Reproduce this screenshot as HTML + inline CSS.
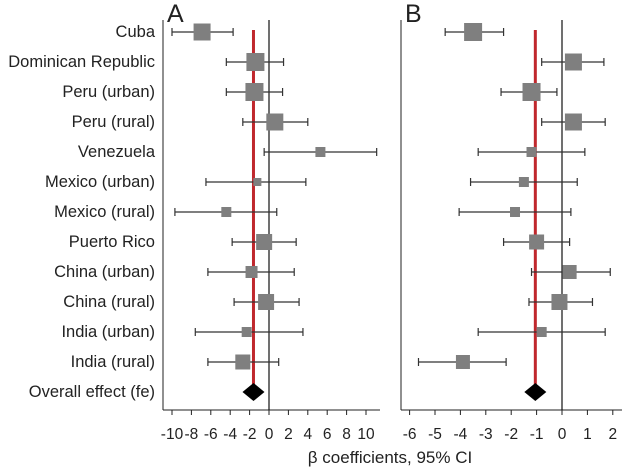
<!DOCTYPE html>
<html><head><meta charset="utf-8"><style>
body{margin:0;background:#fff;}
svg{display:block;font-family:"Liberation Sans",sans-serif;}
</style></head><body>
<svg id="chart" width="627" height="469" viewBox="0 0 627 469"></svg>
<script>
const categories=["Cuba","Dominican Republic","Peru (urban)","Peru (rural)","Venezuela","Mexico (urban)","Mexico (rural)","Puerto Rico","China (urban)","China (rural)","India (urban)","India (rural)"];
const aEst=[-6.9,-1.4,-1.5,0.6,5.3,-1.2,-4.4,-0.5,-1.8,-0.3,-2.3,-2.7];
const aLo=[-10,-4.4,-4.4,-2.7,-0.5,-6.5,-9.7,-3.8,-6.3,-3.6,-7.6,-6.3];
const aHi=[-3.7,1.5,1.4,4.0,11.1,3.8,0.8,2.8,2.6,3.1,3.5,1.0];
const aWt=[17,18,18,17,10,8,10,16,12,16,10,15];
const aOverall=-1.6;
const bEst=[-3.5,0.45,-1.2,0.45,-1.2,-1.5,-1.85,-1.0,0.3,-0.1,-0.8,-3.9];
const bLo=[-4.6,-0.8,-2.4,-0.8,-3.3,-3.6,-4.05,-2.3,-1.2,-1.3,-3.3,-5.65];
const bHi=[-2.3,1.65,-0.2,1.7,0.9,0.6,0.35,0.3,1.9,1.2,1.7,-2.2];
const bWt=[18,17,18,17,10,10,10,15,14,16,10,14];
const bOverall=-1.05;
const aTicks=[-10,-8,-6,-4,-2,0,2,4,6,8,10];
const bTicks=[-6,-5,-4,-3,-2,-1,0,1,2];

const svg=document.getElementById('chart');
const NS='http://www.w3.org/2000/svg';
function el(t,a,p){const e=document.createElementNS(NS,t);for(const k in a)e.setAttribute(k,a[k]);(p||svg).appendChild(e);return e;}
const rowY=i=>32+i*30;
const xA=v=>269+9.7*v;
const xB=v=>562+25.4*v;

categories.forEach((c,i)=>{
  const t=el('text',{x:155,y:rowY(i)+5,'text-anchor':'end','font-size':16.5,fill:'#222'});
  t.textContent=c;
  
  
});
const ot=el('text',{x:155,y:rowY(12)+5,'text-anchor':'end','font-size':16.5,fill:'#222'});
ot.textContent="Overall effect (fe)";



function panel(name,letter,left,right,X,est,lo,hi,wt,overall,ticks){
  const g=el('g',{});
  
  
  el('line',{x1:left,y1:20,x2:left,y2:410,stroke:'#222','stroke-width':1},g);
  el('line',{x1:left,y1:410,x2:right,y2:410,stroke:'#222','stroke-width':1},g);
  el('line',{x1:X(0),y1:20,x2:X(0),y2:410,stroke:'#111','stroke-width':1.2},g);
  const L=el('text',{x:left+4,y:22,'font-size':25,fill:'#222'},g);L.textContent=letter;
  ticks.forEach(t=>{
    el('line',{x1:X(t),y1:410,x2:X(t),y2:415,stroke:'#222'},g);
    const tx=el('text',{x:X(t),y:439,'text-anchor':'middle','font-size':15.5,fill:'#222'},g);
    tx.textContent=t;
    
    
  });
  el('line',{x1:X(overall),y1:30,x2:X(overall),y2:392,stroke:'#c0282d','stroke-width':3},g);
  est.forEach((v,i)=>{
    const y=rowY(i);
    const ci=el('line',{x1:X(lo[i]),y1:y,x2:X(hi[i]),y2:y,stroke:'#333','stroke-width':1.2},g);
    
    
    el('line',{x1:X(lo[i]),y1:y-4,x2:X(lo[i]),y2:y+4,stroke:'#333','stroke-width':1.2},g);
    el('line',{x1:X(hi[i]),y1:y-4,x2:X(hi[i]),y2:y+4,stroke:'#333','stroke-width':1.2},g);
    const s=wt[i];
    const r=el('rect',{x:X(v)-s/2,y:y-s/2,width:s,height:s,fill:'#7f7f7f'},g);
    
    
  });
  const y=rowY(12),cx=X(overall);
  const d=el('polygon',{points:`${cx-11},${y} ${cx},${y-9} ${cx+11},${y} ${cx},${y+9}`,fill:'#000'},g);
  
  
}
panel('panel-a','A',163,380,xA,aEst,aLo,aHi,aWt,aOverall,aTicks);
panel('panel-b','B',401,622,xB,bEst,bLo,bHi,bWt,bOverall,bTicks);
const xt=el('text',{x:390,y:463,'text-anchor':'middle','font-size':17,fill:'#222'});
xt.textContent="β coefficients, 95% CI";


</script>
</body></html>
